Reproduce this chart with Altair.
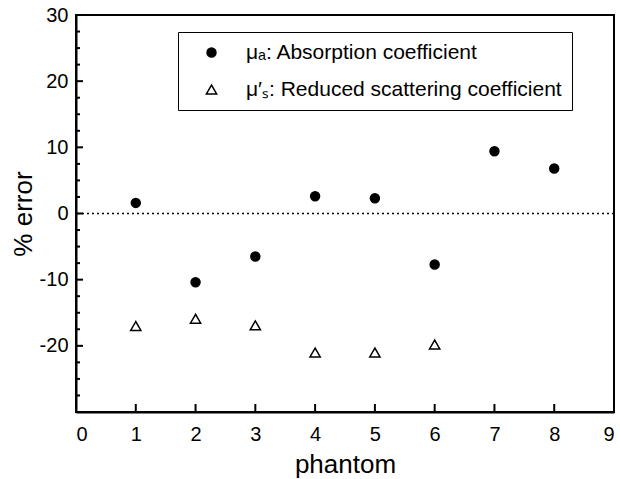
import altair as alt
import pandas as pd

phantom_abs = [1, 2, 3, 4, 5, 6, 7, 8]
err_abs = [1.6, -10.4, -6.5, 2.6, 2.3, -7.7, 9.4, 6.8]
phantom_sca = [1, 2, 3, 4, 5, 6]
err_sca = [-17.0, -15.9, -16.9, -21.0, -21.0, -19.8]
series_names = ["μₐ: Absorption coefficient", "μ′ₛ: Reduced scattering coefficient"]
y_tick_labels = [-20, -10, 0, 10, 20, 30]
x_tick_labels = [0, 1, 2, 3, 4, 5, 6, 7, 8, 9]
y_minor = [v * 2.5 for v in range(-12, 13)]

rows = [{"phantom": p, "err": e, "series": series_names[0]} for p, e in zip(phantom_abs, err_abs)]
rows += [{"phantom": p, "err": e, "series": series_names[1]} for p, e in zip(phantom_sca, err_sca)]
df = pd.DataFrame(rows)

FONT = "Liberation Sans"
W, H = 538, 397
LBL = "datum.value < 0 ? '-' + abs(datum.value) : '' + datum.value"

xs = alt.Scale(domain=[0, 9], nice=False, zero=False)
ys = alt.Scale(domain=[-30, 30], nice=False, zero=False)

points = alt.Chart(df).mark_point(filled=True, strokeWidth=1.5, opacity=1).encode(
    x=alt.X("phantom:Q", scale=xs,
            axis=alt.Axis(values=x_tick_labels, title="phantom", labelExpr=LBL)),
    y=alt.Y("err:Q", scale=ys,
            axis=alt.Axis(values=y_tick_labels, title="% error", labelExpr=LBL)),
    shape=alt.Shape("series:N", scale=alt.Scale(domain=series_names, range=["circle", "triangle-up"]),
                    legend=alt.Legend(title=None)),
    fill=alt.Fill("series:N", scale=alt.Scale(domain=series_names, range=["black", "white"]),
                  legend=alt.Legend(title=None)),
    size=alt.Size("series:N", scale=alt.Scale(domain=series_names, range=[80, 105]),
                  legend=alt.Legend(title=None)),
    stroke=alt.value("black"),
)

zero_line = alt.Chart(pd.DataFrame({"y": [0]})).mark_rule(
    color="black", strokeWidth=1.6, strokeDash=[2, 3]
).encode(y=alt.Y("y:Q", scale=ys))

y_major_vals = [v for v in y_minor if v % 10 == 0]
y_minor_vals = [v for v in y_minor if v % 10 != 0]
y_ticks_major = alt.Chart(pd.DataFrame({"ty": y_major_vals})).mark_tick(
    orient="horizontal", size=7, thickness=2, color="black", opacity=1
).encode(y=alt.Y("ty:Q", scale=ys), x=alt.value(3.5))
y_ticks_minor = alt.Chart(pd.DataFrame({"ty": y_minor_vals})).mark_tick(
    orient="horizontal", size=4, thickness=2, color="black", opacity=1
).encode(y=alt.Y("ty:Q", scale=ys), x=alt.value(2))
x_ticks = alt.Chart(pd.DataFrame({"tx": x_tick_labels})).mark_tick(
    orient="vertical", size=8, thickness=2, color="black", opacity=1
).encode(x=alt.X("tx:Q", scale=xs), y=alt.value(H - 4))

chart = alt.layer(zero_line, y_ticks_major, y_ticks_minor, x_ticks, points).properties(
    width=W, height=H,
    autosize=alt.AutoSizeParams(type="none"),
    padding={"left": 76, "top": 15, "right": 6, "bottom": 67},
).configure_view(
    stroke="black", strokeWidth=2, clip=False
).configure_axis(
    grid=False, domainColor="black", domainWidth=2, tickSize=0,
    labelFont=FONT, labelFontSize=20, labelColor="black",
    titleFont=FONT, titleFontSize=26, titleFontWeight="normal", titleColor="black",
).configure_axisX(
    labelPadding=12, titlePadding=7,
).configure_axisY(
    labelPadding=8, titlePadding=3,
).configure_legend(
    orient="none", legendX=102, legendY=17,
    strokeColor="black", fillColor="white", padding=10,
    labelFont=FONT, labelFontSize=21, labelColor="black", labelLimit=0,
    labelOffset=24, symbolOffset=13, symbolStrokeWidth=1.5,
    rowPadding=15, cornerRadius=0,
)

chart.save("out.html", embed_options={"renderer": "svg", "actions": False})
